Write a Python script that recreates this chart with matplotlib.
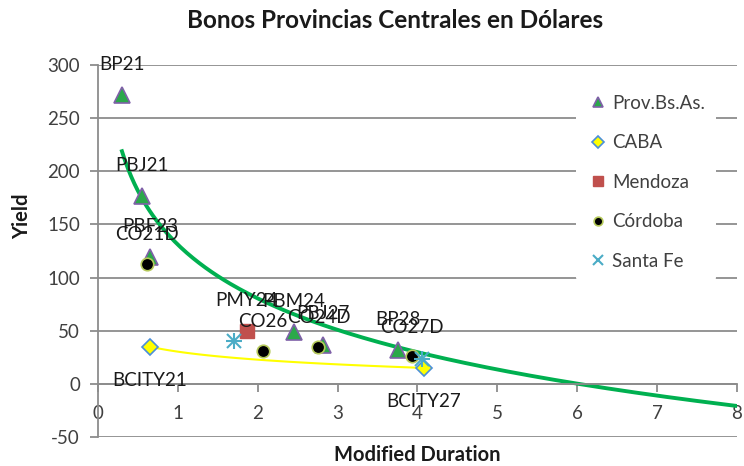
import numpy as np
import matplotlib
matplotlib.use("Agg")
import matplotlib.pyplot as plt

# --- data (modified duration, yield) ---
pba_names = ["BP21", "PBJ21", "PBF23", "PBM24", "PBJ27", "BP28"]
pba_x = [0.30, 0.55, 0.65, 2.45, 2.82, 3.76]
pba_y = [272, 177, 119, 49, 37, 32]

caba_names = ["BCITY21", "BCITY27"]
caba_x = [0.65, 4.08]
caba_y = [35, 15]

mza_names = ["PMY24"]
mza_x = [1.86]
mza_y = [50]

cba_names = ["CO21D", "CO26", "CO24D", "CO27D"]
cba_x = [0.61, 2.06, 2.76, 3.93]
cba_y = [113, 31, 35, 26]

sfe_x = [1.70, 4.06]
sfe_y = [40, 23]

# log trend (green) as drawn in the chart: y = a + b*ln(x)
trend_a = 131.0
trend_b = -73.0
trend_x_end = 8.0

x_ticks = [0, 1, 2, 3, 4, 5, 6, 7, 8]
y_ticks = [-50, 0, 50, 100, 150, 200, 250, 300]

plt.rcParams['font.family'] = ['Lato', 'DejaVu Sans']
plt.rcParams['axes.unicode_minus'] = False
grid_col = '#8c8c8c'
txt_col = '#404040'

fig = plt.figure(figsize=(7.44, 4.66), dpi=100)
ax = fig.add_axes([0.1317, 0.0622, 0.8589, 0.7983])

# gridlines
for yv in y_ticks:
    ax.axhline(yv, color=grid_col, lw=1.3, zorder=0)

# trend lines
tx = np.linspace(min(pba_x), trend_x_end, 200)
ax.plot(tx, trend_a + trend_b * np.log(tx), color='#00B050', lw=2.8, zorder=2)

cb, ca = np.polyfit(np.log(caba_x), caba_y, 1)
cx = np.linspace(min(caba_x), max(caba_x), 100)
ax.plot(cx, ca + cb * np.log(cx), color='#FFFF00', lw=1.5, zorder=2)

# series
ax.plot(pba_x, pba_y, ls='none', marker='^', ms=11, mfc='#2BA84A', mec='#7F60A8',
        mew=1.2, label='Prov.Bs.As.', zorder=3)
ax.plot(caba_x, caba_y, ls='none', marker='D', ms=8.5, mfc='#FFFF00', mec='#4A8FD9',
        mew=1.2, label='CABA', zorder=3)
ax.plot(mza_x, mza_y, ls='none', marker='s', ms=10, mfc='#C0504D', mec='#C0504D',
        label='Mendoza', zorder=3)
ax.plot(cba_x, cba_y, ls='none', marker='o', ms=9, mfc='black', mec='#B5C95A',
        mew=1.2, label='Córdoba', zorder=3)
ax.plot(sfe_x, sfe_y, ls='none', marker='x', ms=10, mec='#4BACC6', mew=1.5,
        label='Santa Fe', zorder=3)
ax.plot(sfe_x, sfe_y, ls='none', marker='+', ms=11, mec='#4BACC6', mew=1.5, zorder=3)

# data labels
for names, xs, ys, dy in [(pba_names, pba_x, pba_y, 22), (mza_names, mza_x, mza_y, 22),
                          (cba_names, cba_x, cba_y, 21), (caba_names, caba_x, caba_y, -24)]:
    for n, xv, yv in zip(names, xs, ys):
        ax.annotate(n, (xv, yv), xytext=(0, dy), textcoords='offset points',
                    ha='center', va='center', fontsize=13.5, color='#1a1a1a',
                    zorder=4, annotation_clip=False)

# axes styling
ax.set_xlim(0, 8)
ax.set_ylim(-50, 300)
ax.set_xticks(x_ticks)
ax.set_yticks(y_ticks)
for s in ['top', 'right']:
    ax.spines[s].set_visible(False)
ax.spines['bottom'].set_position(('data', 0))
ax.spines['bottom'].set_color(grid_col)
ax.spines['left'].set_color(grid_col)
ax.spines['bottom'].set_linewidth(1.3)
ax.spines['left'].set_linewidth(1.3)
ax.tick_params(axis='both', colors=grid_col, width=1.3, length=6, labelcolor=txt_col,
               labelsize=13.5)
ax.tick_params(axis='x', pad=9)
ax.tick_params(axis='y', pad=7)

fig.text(0.531, 0.955, 'Bonos Provincias Centrales en Dólares', ha='center', va='center',
         fontsize=17.5, fontweight='bold', color='#1a1a1a')
fig.text(0.561, 0.023, 'Modified Duration', ha='center', va='center',
         fontsize=14.5, fontweight='bold', color='#1a1a1a')
fig.text(0.03, 0.535, 'Yield', ha='center', va='center', rotation=90,
         fontsize=14.5, fontweight='bold', color='#1a1a1a')

leg = ax.legend(loc='upper left', bbox_to_anchor=(0.733, 0.975), frameon=True,
                fontsize=13.5, handletextpad=0.15, labelspacing=1.2, handlelength=1.2,
                markerscale=0.7, borderpad=0.6)
leg.get_frame().set_facecolor('white')
leg.get_frame().set_edgecolor('none')
leg.get_frame().set_alpha(1)
for t in leg.get_texts():
    t.set_color(txt_col)

fig.savefig('out.png', dpi=100)
